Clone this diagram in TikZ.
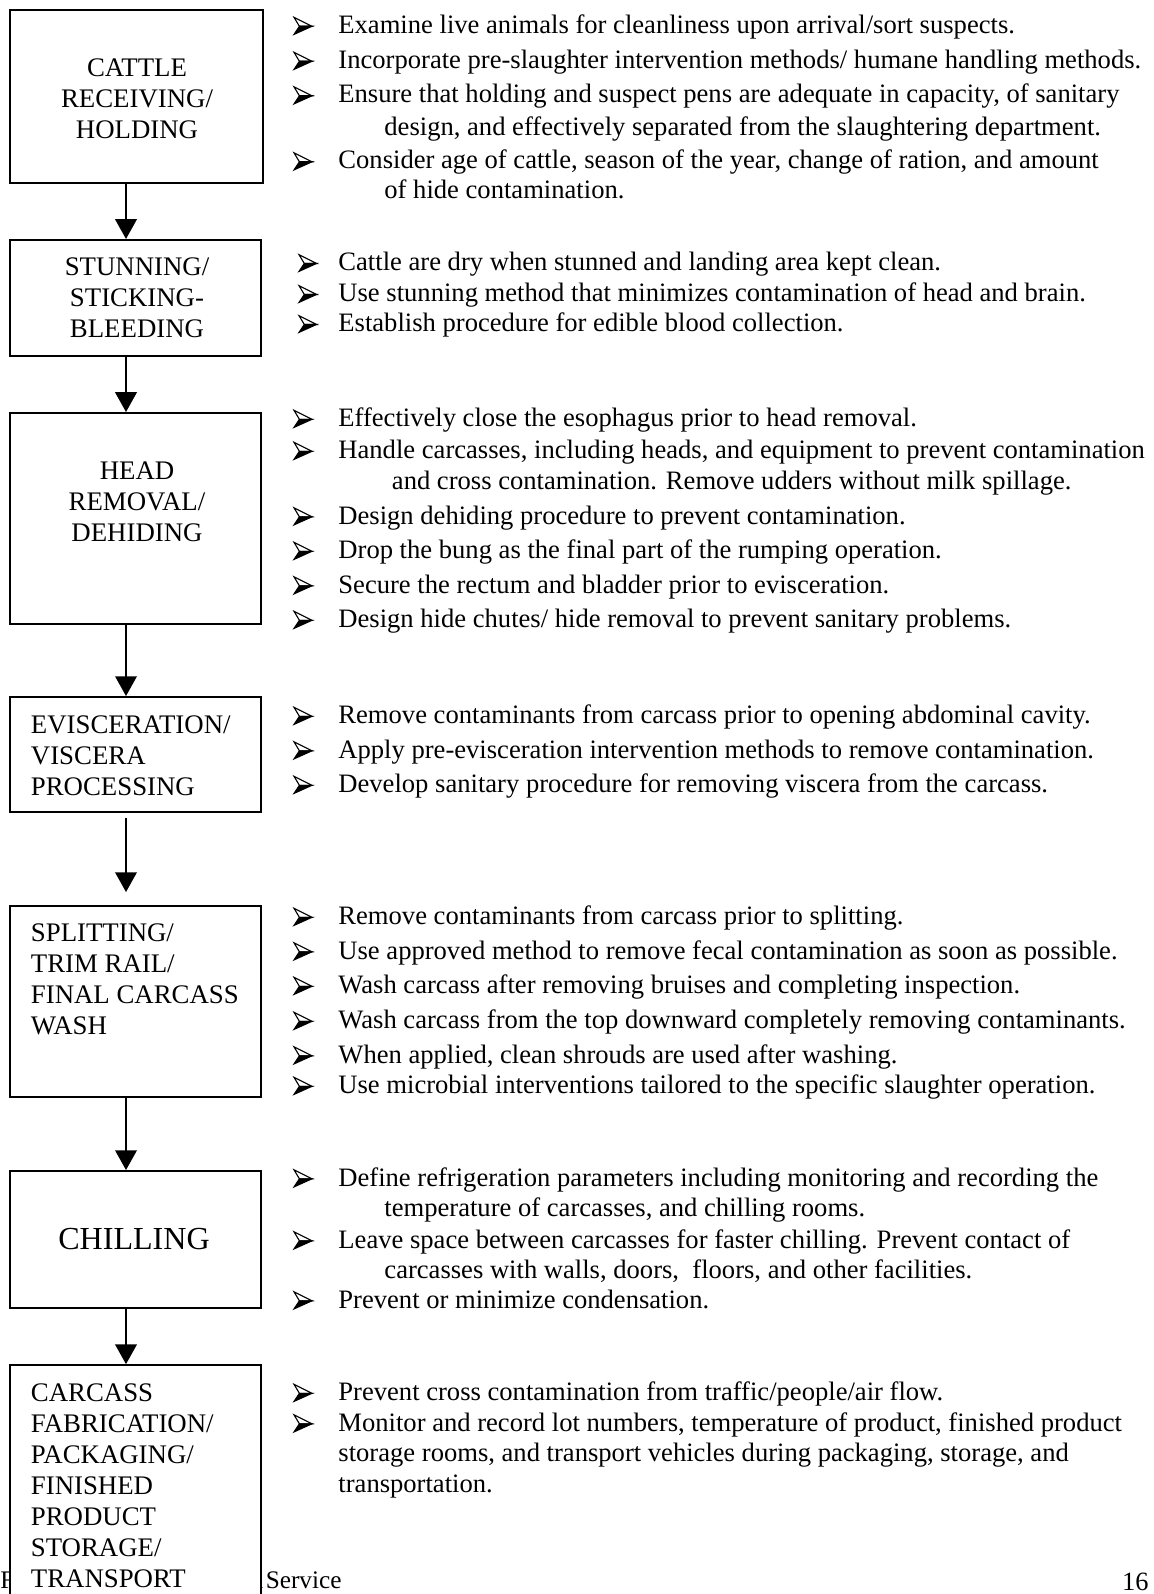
\documentclass[tikz,border=0pt]{standalone}
\usepackage{fontspec}
\setmainfont{Liberation Serif}
\usetikzlibrary{arrows.meta,positioning}

\begin{document}
\begin{tikzpicture}[x=0.455pt, y=-0.455pt,
  box/.style={draw, line width=0.9pt, fill=white, inner sep=0pt, minimum width=114.2pt},
  btxt/.style={inner sep=0pt, align=center, font=\fontsize{12.2}{14.1}\selectfont},
  bul/.pic={
    \filldraw[fill=white, line width=0.5pt, line join=miter] (0,-18) -- (20,-8) -- (6,-8) -- cycle;
    \filldraw[line width=0.5pt, line join=miter] (6,-8) -- (20,-8) -- (0,1) -- cycle;},
  item/.style={anchor=base west, inner sep=0pt, font=\fontsize{12.1}{14}\selectfont,
    append after command={([shift={(-44,0)}]\tikzlastnode.base west) pic[scale=.9] {bul}}},
  itemb/.style={anchor=base west, inner sep=0pt, font=\fontsize{12.1}{14}\selectfont,
    append after command={([shift={(-39,0)}]\tikzlastnode.base west) pic[scale=.88] {bul}}},
  cont/.style={anchor=base west, inner sep=0pt, font=\fontsize{12.1}{14}\selectfont},
  foot/.style={inner sep=0pt, anchor=base west},
  arr/.style={-{Triangle[width=9.8pt,length=9pt]}, line width=0.9pt}]

\useasboundingbox (0,0) rectangle (1153,1594);

% footer, partly hidden by the last box
\node[foot, font=\fontsize{11.5}{13}\selectfont] (ft1) at (0,1588) {F};
\node[foot, anchor=base east, font=\fontsize{11.5}{13}\selectfont] (ft2) at (342,1588) {n\kern1.2pt Service};
\node[foot, anchor=base east, font=\fontsize{12}{14}\selectfont] (pg) at (1149,1590) {16};

% process steps
\node[box, minimum width=115.1pt, minimum height=78.9pt] (b1) at (136.5,96.25) {};
\node[box, minimum height=52.8pt] (b2) at (135.5,298) {};
\node[box, minimum height=96pt] (b3) at (135.5,518.5) {};
\node[box, minimum height=52.3pt] (b4) at (135.5,754.5) {};
\node[box, minimum height=86.9pt] (b5) at (135.5,1001.5) {};
\node[box, minimum height=62.3pt] (b6) at (135.5,1239.5) {};
\node[box, minimum height=125pt] (b7) at (135.5,1502.5) {};

\node[btxt] (l1) at (137,99) {CATTLE\\RECEIVING/\\HOLDING};
\node[btxt] (l2) at (137,298) {STUNNING/\\STICKING-\\BLEEDING};
\node[btxt] (l3) at (137,502) {HEAD\\REMOVAL/\\DEHIDING};
\node[btxt, align=left, anchor=west] (l4) at (30.5,755.5) {EVISCERATION/\\VISCERA\\PROCESSING};
\node[btxt, align=left, anchor=west] (l5) at (30.5,979.7) {SPLITTING/\\TRIM RAIL/\\FINAL CARCASS\\WASH};
\node[btxt, font=\fontsize{14.6}{16}\selectfont] (l6) at (134,1239.5) {CHILLING};
\node[btxt, align=left, anchor=west] (l7) at (30.5,1485.5) {CARCASS\\FABRICATION/\\PACKAGING/\\FINISHED\\PRODUCT\\STORAGE/\\TRANSPORT};

\coordinate (ax) at (126,0);
\draw[arr] (b1.south -| ax) -- (b2.north -| ax);
\draw[arr] (b2.south -| ax) -- (b3.north -| ax);
\draw[arr] (b3.south -| ax) -- (b4.north -| ax);
\draw[arr, shorten <=2.3pt, shorten >=5.9pt] (b4.south -| ax) -- (b5.north -| ax);
\draw[arr] (b5.south -| ax) -- (b6.north -| ax);
\draw[arr] (b6.south -| ax) -- (b7.north -| ax);

% notes for each step
\node[item] (t1) at (338,33.5) {Examine live animals for cleanliness upon arrival/sort suspects.};
\node[item] (t2) at (338,68.5) {Incorporate pre-slaughter intervention methods/ humane handling methods.};
\node[item] (t3) at (338,103) {Ensure that holding and suspect pens are adequate in capacity, of sanitary};
\node[cont] (t3b) at (384,135.5) {design, and effectively separated from the slaughtering department.};
\node[item] (t4) at (338,169) {Consider age of cattle, season of the year, change of ration, and amount};
\node[cont] (t4b) at (384,198.5) {of hide contamination.};

\node[itemb] (s1) at (338,270.5) {Cattle are dry when stunned and landing area kept clean.};
\node[itemb] (s2) at (338,301.5) {Use stunning method that minimizes contamination of head and brain.};
\node[itemb] (s3) at (338,331.5) {Establish procedure for edible blood collection.};

\node[item] (h1) at (338,426.5) {Effectively close the esophagus prior to head removal.};
\node[item] (h2) at (338,458.5) {Handle carcasses, including heads, and equipment to prevent contamination};
\node[cont] (h2b) at (391.5,489.5) {and cross contamination. Remove udders without milk spillage.};
\node[item] (h3) at (338,524) {Design dehiding procedure to prevent contamination.};
\node[item] (h4) at (338,558.5) {Drop the bung as the final part of the rumping operation.};
\node[item] (h5) at (338,593) {Secure the rectum and bladder prior to evisceration.};
\node[item] (h6) at (338,627.5) {Design hide chutes/ hide removal to prevent sanitary problems.};

\node[item] (e1) at (338,723.5) {Remove contaminants from carcass prior to opening abdominal cavity.};
\node[item] (e2) at (338,758) {Apply pre-evisceration intervention methods to remove contamination.};
\node[item] (e3) at (338,792.5) {Develop sanitary procedure for removing viscera from the carcass.};

\node[item] (w1) at (338,924.5) {Remove contaminants from carcass prior to splitting.};
\node[item] (w2) at (338,959) {Use approved method to remove fecal contamination as soon as possible.};
\node[item] (w3) at (338,993.5) {Wash carcass after removing bruises and completing inspection.};
\node[item] (w4) at (338,1028.5) {Wash carcass from the top downward completely removing contaminants.};
\node[item] (w5) at (338,1063) {When applied, clean shrouds are used after washing.};
\node[item] (w6) at (338,1093.5) {Use microbial interventions tailored to the specific slaughter operation.};

\node[item] (c1) at (338,1186) {Define refrigeration parameters including monitoring and recording the};
\node[cont] (c1b) at (384,1216.5) {temperature of carcasses, and chilling rooms.};
\node[item] (c2) at (338,1248) {Leave space between carcasses for faster chilling. Prevent contact of};
\node[cont] (c2b) at (384,1278.5) {carcasses with walls, doors, \ floors, and other facilities.};
\node[item] (c3) at (338,1308) {Prevent or minimize condensation.};

\node[item] (f1) at (338,1400.5) {Prevent cross contamination from traffic/people/air flow.};
\node[item] (f2) at (338,1431) {Monitor and record lot numbers, temperature of product, finished product};
\node[cont] (f2b) at (338,1461.5) {storage rooms, and transport vehicles during packaging, storage, and};
\node[cont] (f2c) at (338,1492) {transportation.};

\end{tikzpicture}
\end{document}
